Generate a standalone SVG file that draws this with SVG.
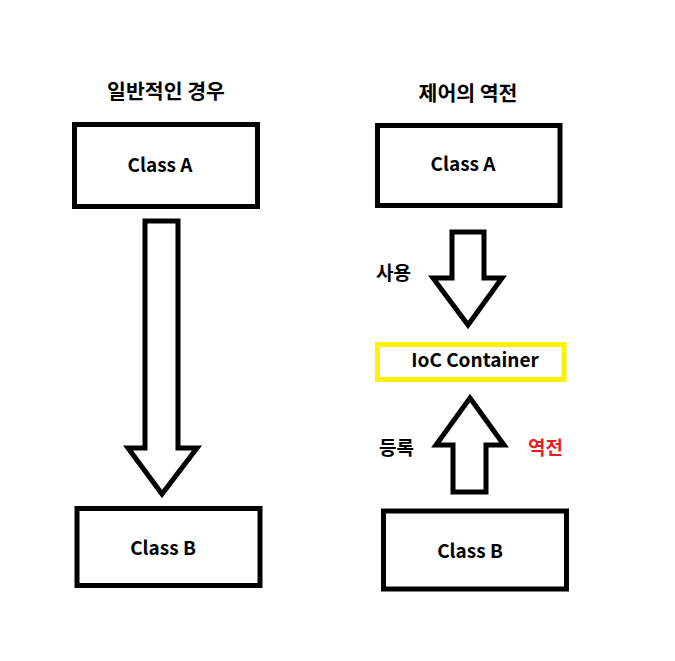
<svg xmlns="http://www.w3.org/2000/svg" width="675" height="661" viewBox="0 0 675 661">
<style>
  text { font-family: "Noto Sans CJK KR", "Noto Sans", sans-serif; font-weight: bold; font-size: 19px; fill: #000; }
  .c { text-anchor: middle; }
  .t { font-size: 20.5px; }
  .box { fill: #fff; stroke: #000; stroke-width: 5; }
  .ioc { fill: #fff; stroke: #fff200; stroke-width: 5; }
  .arrow { fill: #fff; stroke: #000; stroke-width: 5; stroke-linejoin: miter; }
  .red { fill: #ed1c24; }
</style>
<rect width="675" height="661" fill="#fff"/>
<g id="title-left"><text class="c t" x="166" y="99">일반적인 경우</text></g>
<g id="title-right"><text class="c t" x="468" y="101">제어의 역전</text></g>
<g id="left-class-a">
  <rect class="box" x="74.5" y="124.5" width="183" height="82"/>
  <text class="c" x="160" y="172">Class A</text>
</g>
<g id="left-class-b">
  <rect class="box" x="77" y="508.5" width="183" height="77"/>
  <text class="c" x="163" y="555">Class B</text>
</g>
<g id="right-class-a">
  <rect class="box" x="377.5" y="125.5" width="182.5" height="80"/>
  <text class="c" x="463" y="171">Class A</text>
</g>
<g id="ioc-container">
  <rect class="ioc" x="377.5" y="344.5" width="186.5" height="35"/>
  <text class="c" x="475" y="367">IoC Container</text>
</g>
<g id="right-class-b">
  <rect class="box" x="383.5" y="511" width="183" height="78"/>
  <text class="c" x="470" y="558">Class B</text>
</g>
<g id="connectors">
  <polygon class="arrow" points="145,221 178,221 178,448 197,448 162,494 128,448 145,448"/>
  <polygon class="arrow" points="452,232 484,232 484,278 502,278 468,325 433,278 452,278"/>
  <polygon class="arrow" points="470,398 504,445 486,445 486,492 453,492 453,445 436,445"/>
  <text x="376" y="280">사용</text>
  <text x="379" y="455">등록</text>
  <text class="red" x="528" y="455">역전</text>
</g>
</svg>
